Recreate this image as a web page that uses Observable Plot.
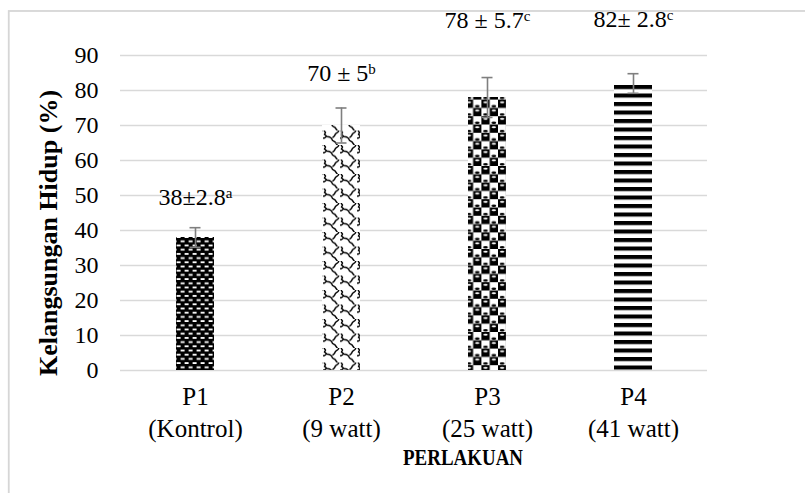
<!DOCTYPE html>
<html>
<head>
<meta charset="utf-8">
<script src="https://cdn.jsdelivr.net/npm/d3@7"></script>
<script src="https://cdn.jsdelivr.net/npm/@observablehq/plot@0.6"></script>
<style>
  html, body { margin: 0; padding: 0; background: #fff; overflow: hidden; }
  #chart { width: 805px; height: 493px; }
</style>
</head>
<body>
<div id="chart"></div>
<script>
const codes = ["P1", "P2", "P3", "P4"];
const treatments = ["(Kontrol)", "(9 watt)", "(25 watt)", "(41 watt)"];
const means = [38, 70, 78, 82];
const sds = [2.8, 5, 5.7, 2.8];
const labels = ["38±2.8", "70 ± 5", "78 ± 5.7", "82± 2.8"];
const letters = ["a", "b", "c", "c"];
const labelLevels = [49.5, 85, 100, 100.3];
const yTicks = [0, 10, 20, 30, 40, 50, 60, 70, 80, 90];
const yTitle = "Kelangsungan Hidup (%)";
const xTitle = "PERLAKUAN";

const data = codes.map((c, i) => ({
  code: c, treatment: treatments[i], mean: means[i], sd: sds[i],
  label: labels[i], letter: letters[i], level: labelLevels[i]
}));

const serif = "'Liberation Serif', 'Times New Roman', serif";
const errColor = "#7f7f7f";

const chart = Plot.plot({
  width: 805, height: 493,
  marginLeft: 120, marginRight: 98, marginTop: 55, marginBottom: 123,
  style: { fontFamily: serif, color: "#000", background: "#fff" },
  x: { domain: codes, paddingInner: 0.74, paddingOuter: 0.37 },
  y: { domain: [0, 90] },
  color: { type: "identity" },
  marks: [
    Plot.gridY(yTicks, { stroke: "#d9d9d9", strokeOpacity: 1, strokeWidth: 1.3 }),
    Plot.axisY(yTicks, { tickSize: 0, tickPadding: 22, fontSize: 24, label: null, fill: "#000" }),
    Plot.axisX({ tickSize: 0, tickPadding: 11, fontSize: 25, lineHeight: 1.3, label: null, fill: "#000",
      tickFormat: c => `${c}\n${treatments[codes.indexOf(c)]}` }),
    Plot.barY(data, { x: "code", y: "mean", fill: d => `url(#pat${codes.indexOf(d.code)})` }),
    Plot.ruleX(data, { x: "code", y1: d => d.mean - d.sd, y2: d => d.mean + d.sd, stroke: errColor, strokeWidth: 1.6 }),
    Plot.tickY(data, { x: "code", y: d => d.mean - d.sd, stroke: errColor, strokeWidth: 1.6, insetLeft: 13.5, insetRight: 13.5 }),
    Plot.tickY(data, { x: "code", y: d => d.mean + d.sd, stroke: errColor, strokeWidth: 1.6, insetLeft: 13.5, insetRight: 13.5 }),
    Plot.text(data, { x: "code", y: "level", text: "label", fontSize: 24, fill: "#000", textAnchor: "middle" }),
    Plot.text([yTitle], { frameAnchor: "left", rotate: -90, dx: -72, dy: 20, fontSize: 26, fontWeight: "bold", fill: "#000", textAnchor: "middle" }),
    Plot.text([xTitle], { frameAnchor: "bottom", dy: 94, dx: 49, fontSize: 24, fontWeight: "bold", fill: "#000" })
  ]
});

const defs = `
<defs>
  <pattern id="pat0" width="8" height="8.4" patternUnits="userSpaceOnUse">
    <rect width="8" height="8.4" fill="#000"/>
    <rect x="0.6" y="1" width="4" height="1.8" fill="#fff"/>
    <rect x="4.6" y="5.2" width="4" height="1.8" fill="#fff"/>
    <rect x="-3.4" y="5.2" width="4" height="1.8" fill="#fff"/>
  </pattern>
  <pattern id="pat1" width="17" height="14.5" patternUnits="userSpaceOnUse">
    <rect width="17" height="14.5" fill="#fff"/>
    <path d="M1,0 l1.5,2 l-1,2 l2.5,2 l2.5,0.5 l2,1.5 l1,2 l2.5,1.5 l1.5,2 l1,1.5" fill="none" stroke="#000" stroke-width="1.4"/>
    <path d="M9.5,7.2 l2,-1.8 l1,-2 l2.5,-2 l1,-1.4" fill="none" stroke="#000" stroke-width="1.4"/>
    <path d="M3.5,6 l-2,1.5 l-1.5,0.3" fill="none" stroke="#000" stroke-width="1.4"/>
  </pattern>
  <pattern id="pat2" width="16.6" height="16.6" patternUnits="userSpaceOnUse">
    <rect width="16.6" height="16.6" fill="#fff"/>
    <rect x="0" y="0" width="8.3" height="8.3" fill="#000"/>
    <rect x="8.3" y="8.3" width="8.3" height="8.3" fill="#000"/>
    <ellipse cx="4.15" cy="2.6" rx="2.2" ry="1" fill="#fff"/>
    <ellipse cx="12.45" cy="10.9" rx="2.2" ry="1" fill="#fff"/>
    <ellipse cx="12.45" cy="6.6" rx="2.4" ry="1.3" fill="#000"/>
    <ellipse cx="4.15" cy="14.9" rx="2.4" ry="1.3" fill="#000"/>
  </pattern>
  <pattern id="pat3" width="10" height="8.5" patternUnits="userSpaceOnUse">
    <rect width="10" height="8.5" fill="#fff"/>
    <rect y="0" width="10" height="4.1" fill="#000"/>
  </pattern>
</defs>`;
chart.insertAdjacentHTML("afterbegin", defs);

// light gray chart-area border (only the top and left edges fall inside the picture)
const NS = "http://www.w3.org/2000/svg";
const frame = document.createElementNS(NS, "rect");
frame.setAttribute("x", "8.75");
frame.setAttribute("y", "11");
frame.setAttribute("width", "900");
frame.setAttribute("height", "600");
frame.setAttribute("fill", "none");
frame.setAttribute("stroke", "#d6d6d6");
frame.setAttribute("stroke-width", "1.8");
chart.appendChild(frame);

chart.querySelectorAll("text").forEach(t => {
  const i = labels.indexOf(t.textContent);
  if (i >= 0) {
    const ts = document.createElementNS(NS, "tspan");
    ts.setAttribute("dy", "-0.45em");
    ts.setAttribute("font-size", "15");
    ts.textContent = letters[i];
    t.appendChild(ts);
  } else if (t.textContent === xTitle) {
    t.setAttribute("textLength", "120");
    t.setAttribute("lengthAdjust", "spacingAndGlyphs");
  }
});

document.getElementById("chart").appendChild(chart);
</script>
</body>
</html>
